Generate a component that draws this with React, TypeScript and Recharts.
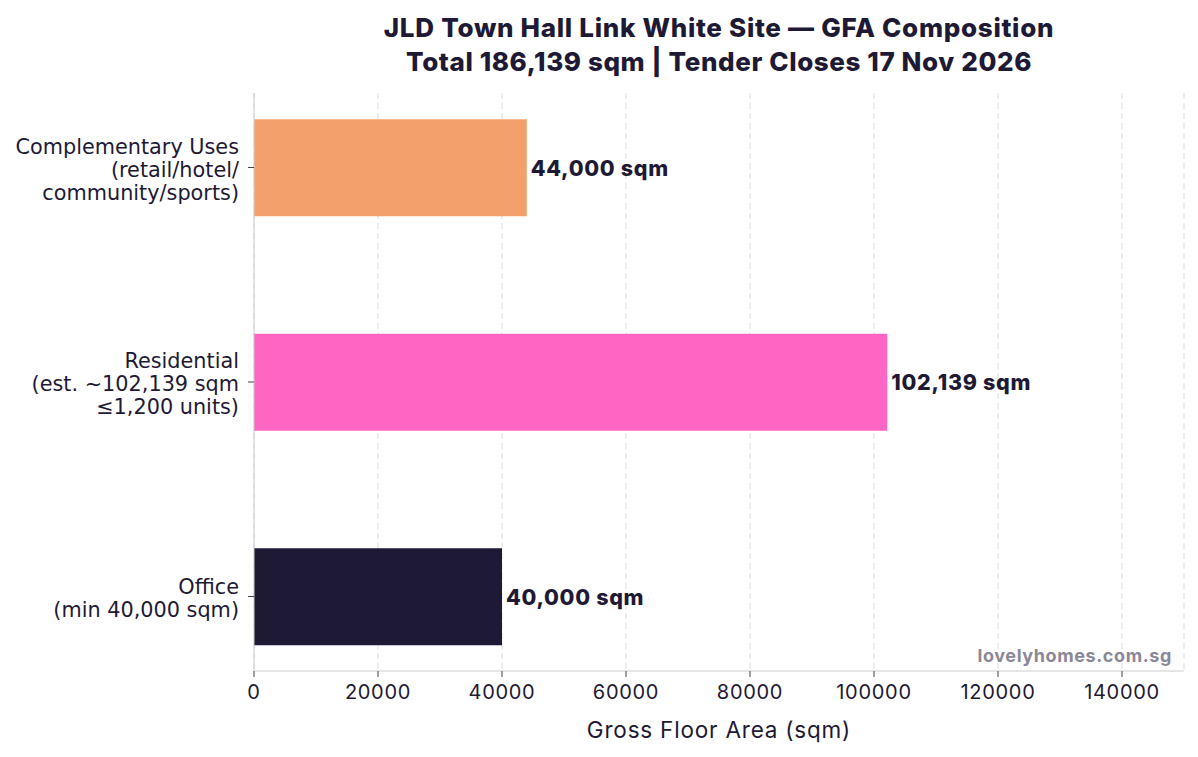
import React from "react";
import { BarChart, Bar, XAxis, YAxis, CartesianGrid, Cell, LabelList } from "recharts";

const categories = [
  ["Complementary Uses", "(retail/hotel/", "community/sports)"],
  ["Residential", "(est. ~102,139 sqm", "≤1,200 units)"],
  ["Office", "(min 40,000 sqm)"],
];
const gfaValues = [44000, 102139, 40000];
const barColors = ["#F4A06C", "#FF66C4", "#1E1934"];
const xTicks = [0, 20000, 40000, 60000, 80000, 100000, 120000, 140000];
const titleLines = [
  "JLD Town Hall Link White Site — GFA Composition",
  "Total 186,139 sqm | Tender Closes 17 Nov 2026",
];

const data = categories.map((lines, i) => ({
  key: lines.join("\n"),
  value: gfaValues[i],
}));

const W = 1198;
const H = 757;
const PLOT_LEFT = 254;
const PLOT_RIGHT = 1184;
const PLOT_TOP = 93;
const DARK = "#1E1934";

const YTick = (props: any) => {
  const { x, y, payload } = props;
  const lines: string[] = String(payload.value).split("\n");
  const n = lines.length;
  return (
    <g>
      {lines.map((l, i) => (
        <text
          key={i}
          x={x}
          y={y + (i - (n - 1) / 2) * 23 + 2}
          textAnchor="end"
          dominantBaseline="central"
          fontFamily="DejaVu Sans"
          fontSize={20.8}
          fill={DARK}
        >
          {l}
        </text>
      ))}
    </g>
  );
};

const XTick = (props: any) => {
  const { x, y, payload } = props;
  return (
    <text x={x} y={y + 13} textAnchor="middle" dominantBaseline="central" fontFamily="Inter" fontSize={20} letterSpacing={0.7} fill={DARK}>
      {payload.value}
    </text>
  );
};

const ValueLabel = (props: any) => {
  const { x, y, width, height, value } = props;
  return (
    <text
      x={x + width + 4}
      y={y + height / 2}
      dominantBaseline="central"
      fontFamily="Inter"
      fontWeight={800}
      fontSize={21.5}
      letterSpacing={0.7}
      fill={DARK}
    >
      {Number(value).toLocaleString("en-US")} sqm
    </text>
  );
};

export default function App() {
  const cx = (PLOT_LEFT + PLOT_RIGHT) / 2;
  return (
    <div style={{ margin: "-8px 0 0 -8px", width: W, height: H, position: "relative", background: "#fff" }}>
      <BarChart
        width={W}
        height={H}
        data={data}
        layout="vertical"
        margin={{ top: PLOT_TOP, right: W - PLOT_RIGHT, left: 8, bottom: 36 }}
      >
        <CartesianGrid horizontal={false} vertical stroke="#dddddd" strokeDasharray="6 4" />
        <XAxis
          type="number"
          dataKey="value"
          domain={[0, 150000]}
          ticks={xTicks}
          height={50}
          stroke="#cccccc"
          tickLine={{ stroke: "#444444" }}
          tickSize={6}
          tick={<XTick />}
          interval={0}
        />
        <YAxis
          type="category"
          dataKey="key"
          width={246}
          stroke="#cccccc"
          tickLine={{ stroke: "#444444" }}
          tickSize={6}
          tickMargin={9}
          tick={<YTick />}
          padding={{ top: -32.75, bottom: -32.75 }}
          interval={0}
        />
        <Bar dataKey="value" barSize={97} isAnimationActive={false}>
          {data.map((d, i) => (
            <Cell key={d.key} fill={barColors[i]} />
          ))}
          <LabelList dataKey="value" content={<ValueLabel />} />
        </Bar>
        <text x={cx} y={27} textAnchor="middle" dominantBaseline="central" fontFamily="Inter" fontWeight={800} fontSize={26} letterSpacing={0.7} fill={DARK}>
          {titleLines[0]}
        </text>
        <text x={cx} y={61} textAnchor="middle" dominantBaseline="central" fontFamily="Inter" fontWeight={800} fontSize={26} letterSpacing={0.6} fill={DARK}>
          {titleLines[1]}
        </text>
        <text x={cx} y={729} textAnchor="middle" dominantBaseline="central" fontFamily="Inter" fontSize={22.5} letterSpacing={0.8} fill={DARK}>
          Gross Floor Area (sqm)
        </text>
        <text x={1172} y={655} textAnchor="end" dominantBaseline="central" fontFamily="Inter" fontWeight={700} fontSize={18} letterSpacing={0.6} fill="#8A8797">
          lovelyhomes.com.sg
        </text>
      </BarChart>
    </div>
  );
}
